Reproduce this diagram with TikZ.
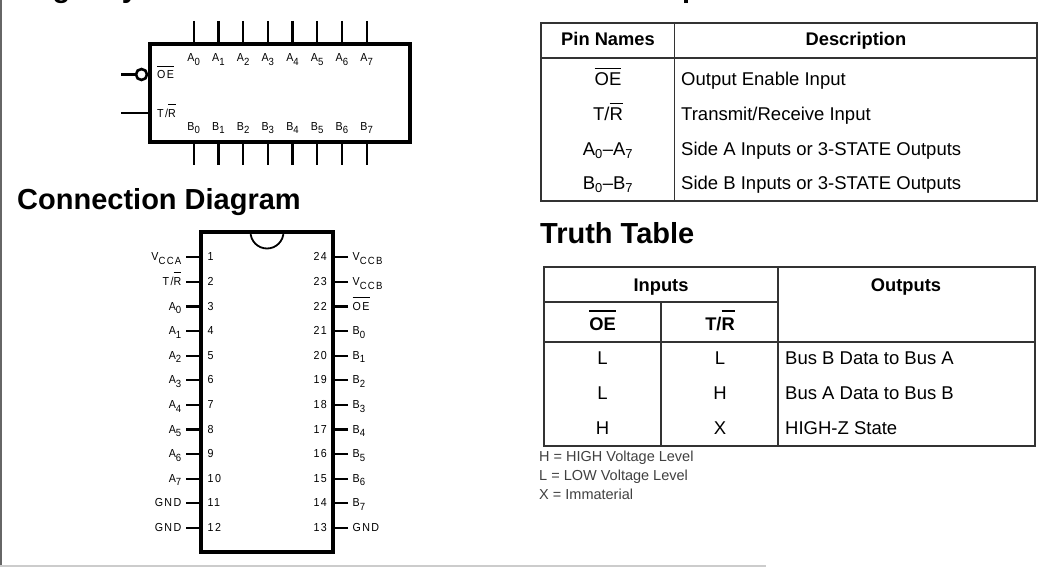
\documentclass[tikz,border=0pt]{standalone}
\usepackage{fontspec}
\setmainfont{Liberation Sans}
\newfontfamily\pinfont[LetterSpace=12,FakeStretch=0.92]{Liberation Sans}
\usetikzlibrary{calc}
\newcommand{\ovl}[3]{\sbox0{#3}\rlap{\rule[#1]{\wd0}{#2}}\box0}
\newcommand{\pinOE}{\ovl{12pt}{0.9pt}{OE}}
\newcommand{\pinTR}{T/\ovl{12.5pt}{0.9pt}{R}}
\newcommand{\cellOE}{\ovl{16pt}{1.1pt}{OE}}
\newcommand{\cellTR}{T/\ovl{16pt}{1.1pt}{R}}
\newcommand{\headOE}{\ovl{18pt}{1.8pt}{OE}}
\newcommand{\headTR}{T/\ovl{18pt}{1.8pt}{R}}
\newcommand{\pinsub}[1]{\raisebox{-3.6pt}{\fontsize{10.4}{11}\selectfont #1}}
\tikzset{
	chipbox/.style={draw, line width=3.4pt, inner sep=0pt, outer sep=0pt},
	pinline/.style={line width=2.2pt},
	tabline/.style={draw=black!80, line width=1.3pt},
	pinlbl/.style={inner sep=0pt, text height=8.2pt, text depth=0pt, font=\pinfont\fontsize{11.6}{13}\selectfont},
	title/.style={inner sep=0pt, anchor=base west, font=\bfseries\fontsize{29}{30}\selectfont},
	headtxt/.style={inner sep=0pt, text height=13pt, text depth=0pt, font=\bfseries\fontsize{18.3}{20}\selectfont},
	celltxt/.style={inner sep=0pt, text height=13pt, text depth=0pt, font=\fontsize{18.5}{20}\selectfont},
	lefttxt/.style={celltxt, anchor=west},
	notetxt/.style={inner sep=0pt, anchor=west, text height=10.4pt, text depth=0pt, text=black!75, font=\fontsize{14.5}{16}\selectfont}
}
\begin{document}
\begin{tikzpicture}[x=1pt,y=-1pt]
\useasboundingbox (0,0) rectangle (1055,567);
\clip (0,0) rectangle (1055,567);
\fill[black!60] (0,0) rectangle (1.5,565);
\fill[black!20] (0,565) rectangle (766,567);

\node[title] (tlogic) at (17,-2) {Logic Symbol};
\node[title] (tconn) at (17,209) {Connection Diagram};
\node[title] (tpin) at (540,-2) {Pin Descriptions};
\node[title] (ttruth) at (540,243) {Truth Table};

\node[chipbox, minimum width=260pt, minimum height=98pt] (sym) at (280,93) {};
\foreach \i [evaluate=\i as \xp using 193.7+24.7*\i] in {0,...,7}{
	\coordinate (at\i) at (\xp,21);
	\coordinate (bt\i) at (\xp,165);
	\draw[pinline] (at\i)--(at\i|-sym.north);
	\draw[pinline] (bt\i)--(bt\i|-sym.south);
	\node[pinlbl] (al\i) at (\xp,57.5) {A\pinsub{\i}};
	\node[pinlbl] (bl\i) at (\xp,126) {B\pinsub{\i}};
}
\coordinate (oein) at (121,74.5);
\coordinate (trin) at (121,113);
\node[draw, circle, line width=2.6pt, minimum size=11pt, inner sep=0pt] (oebub) at (141.5,74.5) {};
\draw[pinline] (oein)--(oebub.west);
\draw[pinline] (trin)--(trin-|sym.west);
\node[pinlbl, anchor=west] (oelbl) at (157,74.5) {\pinOE};
\node[pinlbl, anchor=west] (trlbl) at (157,113.5) {\pinTR};

\node[chipbox, minimum width=132pt, minimum height=320pt] (chip) at (267,392) {};
\draw[line width=1.8pt] (chip.north)++(-16.5,0) arc[start angle=180, end angle=0, radius=16.5, y=1pt];
\foreach \n/\lab in {1/V\pinsub{CCA},2/\pinTR,3/A\pinsub{0},4/A\pinsub{1},5/A\pinsub{2},6/A\pinsub{3},7/A\pinsub{4},8/A\pinsub{5},9/A\pinsub{6},10/A\pinsub{7},11/GND,12/GND}{
	\coordinate (lp\n) at (186,{257.3+24.6*(\n-1)});
	\draw[pinline] (lp\n)--(lp\n-|chip.west);
	\node[pinlbl, anchor=east] (ll\n) at (181.5,{256.8+24.6*(\n-1)}) {\lab};
	\node[pinlbl, anchor=west] (ln\n) at (207.5,{256.8+24.6*(\n-1)}) {\n};
}
\foreach \n/\lab in {24/V\pinsub{CCB},23/V\pinsub{CCB},22/\pinOE,21/B\pinsub{0},20/B\pinsub{1},19/B\pinsub{2},18/B\pinsub{3},17/B\pinsub{4},16/B\pinsub{5},15/B\pinsub{6},14/B\pinsub{7},13/GND}{
	\coordinate (rp\n) at (348,{257.3+24.6*(24-\n)});
	\draw[pinline] (rp\n)--(rp\n-|chip.east);
	\node[pinlbl, anchor=west] (rl\n) at (352.5,{256.8+24.6*(24-\n)}) {\lab};
	\node[pinlbl, anchor=east] (rn\n) at (327,{256.8+24.6*(24-\n)}) {\n};
}

\draw[tabline] (541,23) rectangle (1037,201) (674.5,23)--(674.5,201) (541,58)--(1037,58);
\node[headtxt] (hpin) at (608,39.5) {Pin Names};
\node[headtxt] (hdesc) at (856,39.5) {Description};
\foreach \k/\yp/\nm/\desc in {1/79/\cellOE/{Output Enable Input},2/114/\cellTR/{Transmit/Receive Input},3/149/{A\textsubscript{0}--A\textsubscript{7}}/{Side A Inputs or 3-STATE Outputs},4/183/{B\textsubscript{0}--B\textsubscript{7}}/{Side B Inputs or 3-STATE Outputs}}{
	\node[celltxt] (pn\k) at (608,\yp) {\nm};
	\node[lefttxt] (pd\k) at (681,\yp) {\desc};
}

\draw[tabline] (544,267) rectangle (1035,446) (778,267)--(778,446) (661,302)--(661,446) (544,302)--(778,302) (544,342)--(1035,342);
\node[headtxt] (hin) at (661,284.5) {Inputs};
\node[headtxt] (hout) at (906,284.5) {Outputs};
\node[headtxt] (hoe) at (602.5,323.5) {\headOE};
\node[headtxt] (htr) at (720,323.5) {\headTR};
\foreach \k/\yp/\oe/\tr/\res in {1/358/L/L/Bus B Data to Bus A,2/393/L/H/Bus A Data to Bus B,3/428/H/X/HIGH-Z State}{
	\node[celltxt] (coe\k) at (602.5,\yp) {\oe};
	\node[celltxt] (ctr\k) at (720,\yp) {\tr};
	\node[lefttxt] (cres\k) at (785,\yp) {\res};
}
\node[notetxt] (nh) at (539,456) {H = HIGH Voltage Level};
\node[notetxt] (nl) at (539,475) {L = LOW Voltage Level};
\node[notetxt] (nx) at (539,494) {X = Immaterial};
\end{tikzpicture}
\end{document}
